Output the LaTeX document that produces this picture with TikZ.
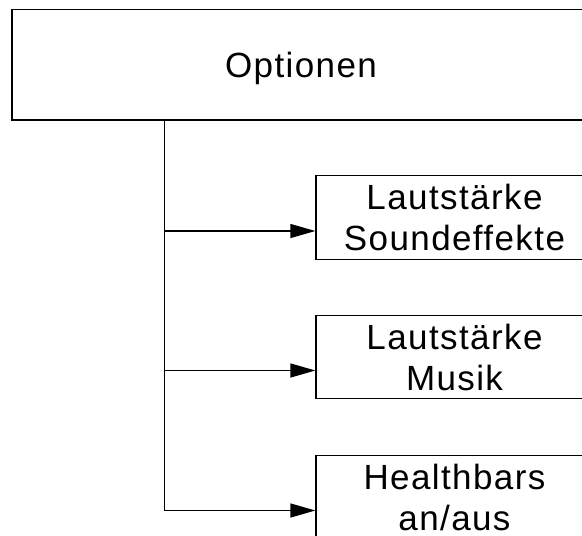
\documentclass[tikz,border=0pt]{standalone}
\usepackage{fontspec}
\newfontfamily\diafont[LetterSpace=4]{Liberation Sans}
\usetikzlibrary{arrows.meta}
\begin{document}
\begin{tikzpicture}
[x=1pt,y=-1pt,
  boxdecorate/.style={shape=rectangle,draw,line width=1.3pt,inner sep=0pt,
    align=center,font=\diafont\fontsize{35}{41}\selectfont},%
  linedecorate/.style={-,line width=1.3pt},
  arrowdecorate/.style={-{Triangle[length=25pt,width=14pt]},line width=1.3pt}]
\clip (0,0) rectangle (582,536);
%% nodes or boxes
\node (opt) at (301,64.75) [boxdecorate,minimum width=578pt,
  minimum height=110.5pt,text depth=0pt] {Optionen};
\foreach \nodename/\y/\label in {snd/217.5/{Lautstärke\\Soundeffekte},
  mus/357/{Lautstärke\\Musik}, hb/497/{Healthbars\\an/aus}} {
  \node (\nodename) at (454.5,\y) [boxdecorate,minimum width=277pt,
    minimum height=83.5pt] {\label};
  \coordinate (\nodename-in) at ([yshift=-13.5pt]\nodename.west);
}
%% lines or arrows
\coordinate (trunk) at ([xshift=153pt]opt.south west);
\draw[linedecorate] (trunk) -- (trunk |- hb-in);
\foreach \endnode in {snd, mus, hb} {
  \draw[arrowdecorate] (trunk |- \endnode-in) -- (\endnode-in);
}
\end{tikzpicture}
\end{document}
